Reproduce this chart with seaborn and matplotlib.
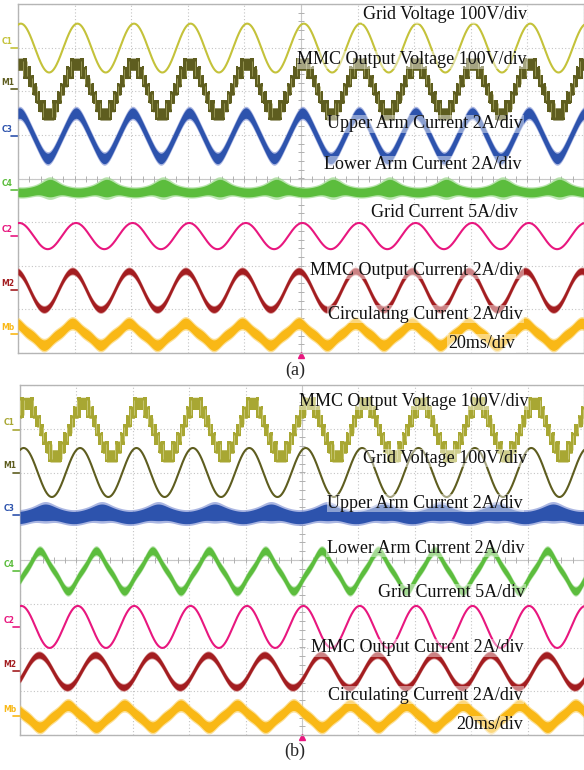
import numpy as np
import pandas as pd
import seaborn as sns
import matplotlib.pyplot as plt
import matplotlib.transforms as mtrans

sns.set_theme(style="white")
plt.rcParams['font.family'] = ['Liberation Serif', 'DejaVu Serif']

# time base: 10 div x 20 ms/div, 50 Hz fundamental, 8 vertical divisions
period_ms = 20.0
ms_per_div = 20
n_div_x = 10

# ---------- panel (a) ----------
a_ch = ["C1", "M1", "C3", "C4", "C2", "M2", "Mb"]
a_offset = [2.99, 2.05, 0.98, -0.27, -1.32, -2.56, -3.57]   # div
a_amp = [0.56, 0.57, 0.52, 0.05, 0.30, 0.44, 0.25]          # div
a_peak_ms = [1.0, 0.8, 0.5, 11.3, 0.5, -0.8, -0.8]
a_h3 = [0.0, 0.0, 0.04, 0.0, 0.0, 0.0, 0.12]
a_band = [0.0, 0.14, 0.12, 0.10, 0.0, 0.07, 0.12]           # ripple half width
a_steps = [0, 3, 0, 0, 0, 0, 0]
a_swell = [0.0, 0.0, 0.0, 0.10, 0.0, 0.0, 0.0]
a_labels = ["Grid Voltage 100V/div", "MMC Output Voltage 100V/div",
            "Upper Arm Current 2A/div", "Lower Arm Current 2A/div",
            "Grid Current 5A/div", "MMC Output Current 2A/div",
            "Circulating Current 2A/div", "20ms/div"]

# ---------- panel (b) ----------
b_ch = ["C1", "M1", "C3", "C4", "C2", "M2", "Mb"]
b_offset = [2.98, 2.00, 1.03, -0.25, -1.53, -2.54, -3.57]
b_amp = [0.60, 0.56, 0.06, 0.46, 0.48, 0.37, 0.25]
b_peak_ms = [2.5, 1.3, 9.0, 7.0, 0.5, 6.7, 17.0]
b_h3 = [0.0, 0.0, 0.0, 0.10, 0.0, 0.0, 0.11]
b_band = [0.14, 0.0, 0.14, 0.09, 0.0, 0.07, 0.12]
b_steps = [3, 0, 0, 0, 0, 0, 0]
b_swell = [0.0, 0.0, 0.05, 0.0, 0.0, 0.0, 0.0]
b_labels = ["MMC Output Voltage 100V/div", "Grid Voltage 100V/div",
            "Upper Arm Current 2A/div", "Lower Arm Current 2A/div",
            "Grid Current 5A/div", "MMC Output Current 2A/div",
            "Circulating Current 2A/div", "20ms/div"]

# styles
a_color = ["#c4c23a", "#5e5d1f", "#2d53ad", "#5cbd3d", "#e8177f", "#a31d20", "#f9b816"]
a_light = ["#c4c23a", "#a9a866", "#8797d6", "#9bd98a", "#e8177f", "#c86a6a", "#fbd36a"]
b_color = ["#a8a733", "#5e5d1f", "#2d53ad", "#5cbd3d", "#e8177f", "#a31d20", "#f9b816"]
b_light = ["#d3d28a", "#5e5d1f", "#8797d6", "#9bd98a", "#e8177f", "#c86a6a", "#fbd36a"]
a_lab_x = [8.99, 8.99, 8.92, 8.90, 8.83, 8.92, 8.92, 8.78]
a_lab_y = [3.75, 2.72, 1.25, 0.31, -0.77, -2.10, -3.11, -3.78]
b_lab_x = [9.01, 8.99, 8.92, 8.94, 8.95, 8.92, 8.92, 8.92]
b_lab_y = [3.63, 2.33, 1.30, 0.27, -0.75, -2.01, -3.09, -3.77]

t = np.linspace(0, n_div_x * ms_per_div, 4000)


def shape(amp, peak_ms, h3):
    ph = 2 * np.pi * (t - peak_ms) / period_ms
    return amp * (np.cos(ph) + h3 * np.cos(3 * ph)) / (1 + h3)


def draw_panel(ax, ch, offset, amp, peak, h3, band, steps, swell, colors, lights,
               labels, lab_x, lab_y):
    ax.set_xlim(0, n_div_x * ms_per_div)
    ax.set_ylim(-4, 4)
    ax.set_xticks(np.arange(0, n_div_x * ms_per_div + 1, ms_per_div))
    ax.set_yticks(np.arange(-4, 5, 1))
    ax.tick_params(length=0, labelbottom=False, labelleft=False)
    ax.grid(True, color="#c4c4c4", lw=0.8, ls=(0, (1, 2)))
    for s in ax.spines.values():
        s.set_color("#b5b5b5")
        s.set_linewidth(1.0)
    ax.axhline(0, color="#c8c8c8", lw=0.8, zorder=1)
    ax.axvline(100, color="#c8c8c8", lw=0.8, zorder=1)
    ax.plot(np.arange(0, 200.1, 4), np.zeros(51), ls="none", marker="|",
            ms=4, color="#b0b0b0", mew=0.7, zorder=1)
    ax.plot(np.full(41, 100.0), np.arange(-4, 4.01, 0.2), ls="none", marker="_",
            ms=4, color="#b0b0b0", mew=0.7, zorder=1)

    blend = mtrans.blended_transform_factory(ax.transAxes, ax.transData)
    for i, name in enumerate(ch):
        y = shape(amp[i], peak[i], h3[i])
        c, lc = colors[i], lights[i]
        if steps[i]:
            # multilevel staircase with PWM between neighbouring levels
            n = steps[i]
            q = y / amp[i] * n
            lvl = np.round(q) / n * amp[i]
            fr = q - np.floor(q)
            pwm = np.abs(fr - 0.5) < 0.35
            lo = np.floor(q) / n * amp[i]
            hi = np.ceil(q) / n * amp[i]
            ax.fill_between(t, offset[i] + lvl - band[i], offset[i] + lvl + band[i],
                            color=c, lw=0, zorder=3)
            ax.fill_between(t, offset[i] + lo - band[i], offset[i] + hi + band[i],
                            where=pwm, color=c, lw=0, zorder=3)
            k = np.where(pwm)[0][::25]
            ax.vlines(t[k], offset[i] + lo[k] - band[i] * 0.5,
                      offset[i] + hi[k] + band[i] * 0.5, color=lc, lw=0.6,
                      alpha=0.8, zorder=4)
        elif band[i] > 0:
            h = band[i]
            if swell[i] > 0:
                ph = 2 * np.pi * (t - peak[i]) / period_ms
                h = band[i] + swell[i] * ((1 + np.cos(ph)) / 2) ** 4
            ax.fill_between(t, offset[i] + y - 1.3 * h, offset[i] + y + 1.3 * h,
                            color=lc, lw=0, alpha=0.7, zorder=3)
            ax.fill_between(t, offset[i] + y - h, offset[i] + y + h,
                            color=c, lw=0, zorder=4)
        else:
            sns.lineplot(x=t, y=offset[i] + y, ax=ax, color=c, lw=1.5, zorder=4,
                         estimator=None, sort=False)
        # channel marker on the left
        ax.text(-0.029, offset[i] + 0.05, name, transform=blend, color=c,
                fontsize=5.5, fontweight="bold", family="DejaVu Sans",
                ha="left", va="bottom", clip_on=False)
        ax.plot([-0.012, 0.0], [offset[i], offset[i]], transform=blend, color=c,
                lw=1.2, clip_on=False)

    for lab, x, y in zip(labels, lab_x, lab_y):
        ax.text(x * ms_per_div, y, lab, ha="right", va="center", fontsize=13,
                color="#111111", zorder=6,
                bbox=dict(fc="white", ec="none", alpha=0.45, pad=0.5))
    ax.plot([0.5], [-0.006], marker="^", ms=4.5, color="#e8177f",
            transform=ax.transAxes, clip_on=False)


fig = plt.figure(figsize=(5.84, 7.70), dpi=100)
ax_a = fig.add_axes([18 / 584, 1 - 353 / 770, 566 / 584, 349 / 770])
ax_b = fig.add_axes([20 / 584, 1 - 735 / 770, 564 / 584, 350 / 770])

draw_panel(ax_a, a_ch, a_offset, a_amp, a_peak_ms, a_h3, a_band, a_steps, a_swell,
           a_color, a_light, a_labels, a_lab_x, a_lab_y)
draw_panel(ax_b, b_ch, b_offset, b_amp, b_peak_ms, b_h3, b_band, b_steps, b_swell,
           b_color, b_light, b_labels, b_lab_x, b_lab_y)

fig.text(295 / 584, 1 - 370 / 770, "(a)", fontsize=13, ha="center", va="center")
fig.text(295 / 584, 1 - 751 / 770, "(b)", fontsize=13, ha="center", va="center")

fig.savefig("out.png", dpi=100)
